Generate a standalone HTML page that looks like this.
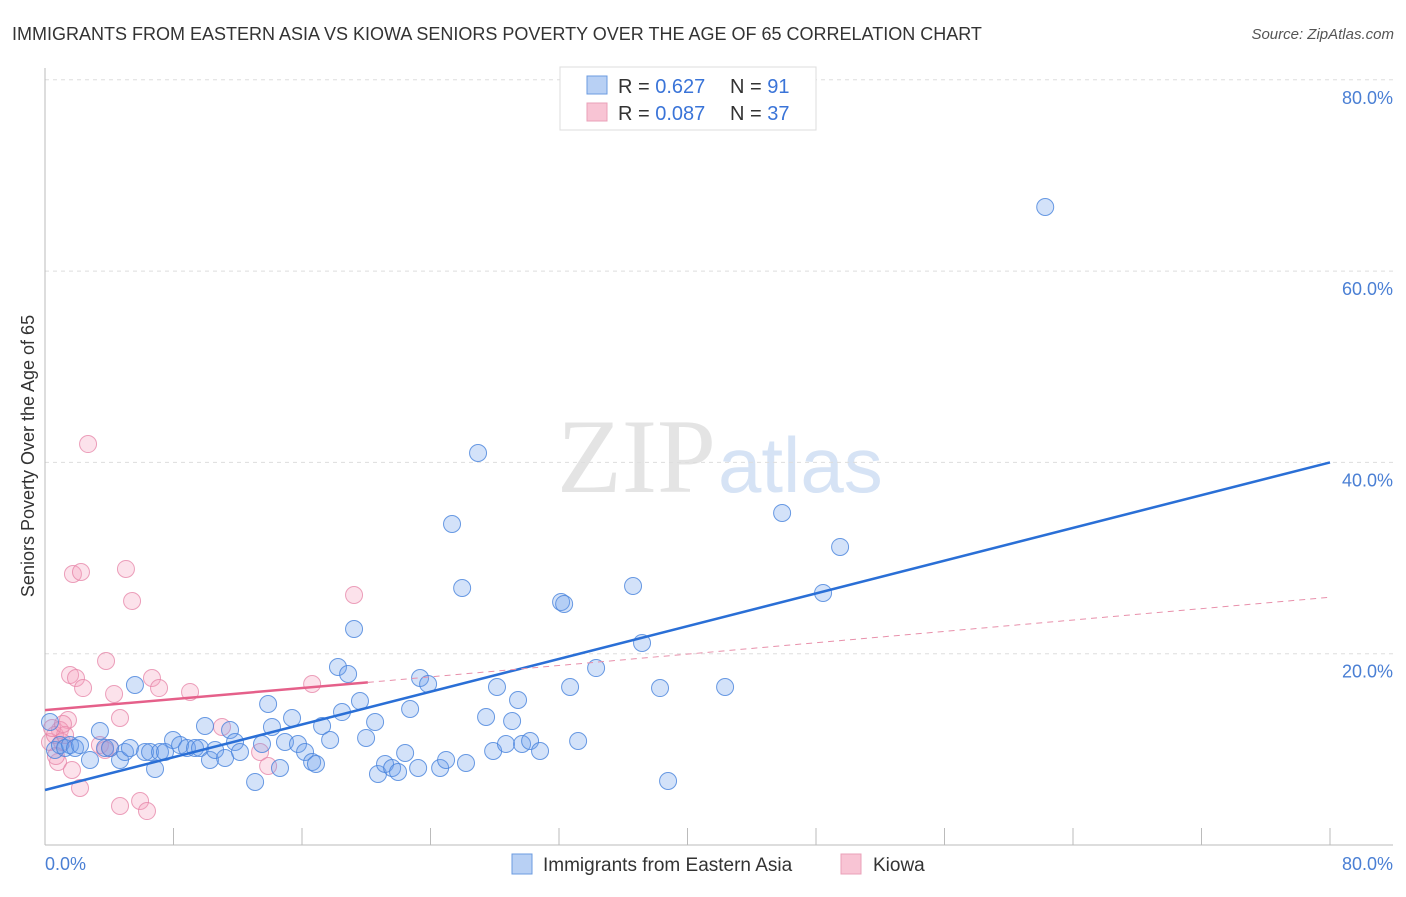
<!DOCTYPE html>
<html><head><meta charset="utf-8"><style>
body{margin:0;background:#fff;font-family:"Liberation Sans",sans-serif;}
</style></head><body>
<svg width="1406" height="892" viewBox="0 0 1406 892">
<text x="12" y="40" font-size="18" fill="#333">IMMIGRANTS FROM EASTERN ASIA VS KIOWA SENIORS POVERTY OVER THE AGE OF 65 CORRELATION CHART</text>
<text x="1394" y="39" font-size="15" fill="#555" font-style="italic" text-anchor="end">Source: ZipAtlas.com</text>
<text x="716" y="492" font-size="106" fill="#e4e4e4" text-anchor="end" font-family="Liberation Serif">ZIP</text>
<text x="718" y="492" font-size="78" fill="#d6e3f5">atlas</text>
<g id="grid"></g>
<g id="axes"></g>
<g id="pts"></g>
<g id="lines"></g>
<text transform="translate(34,456) rotate(-90)" font-size="18" fill="#333" text-anchor="middle">Seniors Poverty Over the Age of 65</text>
<text x="45" y="870" font-size="18" fill="#4a7fd4">0.0%</text>
<text x="1393" y="870" font-size="18" fill="#4a7fd4" text-anchor="end">80.0%</text>
<g>
<rect x="560" y="67" width="256" height="63" fill="#fff" stroke="#ddd"/>
<rect x="587" y="76" width="20" height="18" fill="#b8d0f4" stroke="#6b9be0"/>
<rect x="587" y="103" width="20" height="18" fill="#f8c4d4" stroke="#eaa0b8"/>
<text x="618" y="93" font-size="20" fill="#333">R = <tspan fill="#3a74d8">0.627</tspan></text>
<text x="730" y="93" font-size="20" fill="#333">N = <tspan fill="#3a74d8">91</tspan></text>
<text x="618" y="120" font-size="20" fill="#333">R = <tspan fill="#3a74d8">0.087</tspan></text>
<text x="730" y="120" font-size="20" fill="#333">N = <tspan fill="#3a74d8">37</tspan></text>
</g>
<g>
<rect x="512" y="854" width="20" height="20" fill="#b8d0f4" stroke="#6b9be0"/>
<text x="543" y="871" font-size="19" fill="#333">Immigrants from Eastern Asia</text>
<rect x="841" y="854" width="20" height="20" fill="#f8c4d4" stroke="#eaa0b8"/>
<text x="873" y="871" font-size="19" fill="#333">Kiowa</text>
</g>
</svg>
<script>
const blueX=[0.31,0.62,0.93,1.25,1.56,1.87,2.18,2.80,3.42,3.74,4.05,4.67,4.98,5.29,5.60,6.23,6.54,6.85,7.16,7.47,7.97,8.41,8.84,9.34,9.65,9.96,10.27,10.59,11.21,11.52,11.83,12.14,13.08,13.51,13.89,14.13,14.63,14.94,15.38,15.75,16.19,16.63,16.87,17.25,17.75,18.24,18.49,18.87,19.24,19.61,19.99,20.55,20.73,21.17,21.61,21.98,22.42,22.73,23.23,23.35,23.85,24.60,24.97,25.34,25.97,26.21,26.96,27.46,27.90,28.14,28.70,29.08,29.45,29.70,30.20,30.82,32.13,32.32,32.69,33.19,34.31,36.61,37.17,38.29,38.79,42.34,45.89,48.44,49.50,62.27];
const blueY=[12.86,9.93,10.45,10.14,10.45,10.14,10.45,8.89,11.92,10.14,10.14,8.89,9.72,10.14,16.73,9.72,9.72,7.95,9.72,9.72,10.98,10.45,10.14,10.14,10.14,12.44,8.89,9.93,9.10,12.02,10.77,9.72,6.59,10.56,14.74,12.34,8.05,10.77,13.28,10.56,9.72,8.68,8.47,12.44,10.98,18.61,13.90,17.88,22.58,15.05,11.19,12.86,7.42,8.47,8.05,7.63,9.62,14.22,8.05,17.46,16.83,8.05,8.89,33.56,26.87,8.57,40.98,13.38,9.83,16.52,10.56,12.96,15.16,10.56,10.87,9.83,25.41,25.20,16.52,10.87,18.50,27.08,21.12,16.41,6.69,16.52,34.71,26.35,31.16,66.70];
const pinkX=[2.68,1.74,2.24,5.04,5.42,19.24,3.80,1.56,1.93,2.37,6.66,7.10,9.03,4.30,16.63,4.67,11.02,1.43,0.93,0.31,0.62,1.06,3.42,4.05,13.39,13.89,0.81,1.68,2.18,4.67,5.92,6.35,1.25,0.44,0.68,1.12,3.74];
const pinkY=[41.92,28.33,28.54,28.86,25.51,26.14,19.24,17.77,17.46,16.41,17.46,16.41,16.00,15.79,16.83,13.28,12.34,13.07,12.02,10.77,11.50,10.77,10.45,10.14,9.72,8.26,8.68,7.84,5.96,4.08,4.60,3.55,11.50,12.23,9.30,12.65,9.93];
const yTicks=[20,40,60,80];
const yTickLabels=["20.0%","40.0%","60.0%","80.0%"];
const xTicks=[0,8,16,24,32,40,48,56,64,72,80];
const blueTrend=[[0,5.75],[80,40.0]];
const pinkTrend=[[0,14.1],[20.1,17.0]];
const pinkDash=[[20.1,17.0],[80,25.9]];

const sx=v=>45+v*16.0625;
const sy=v=>845-v*9.565;
const NS="http://www.w3.org/2000/svg";
function mk(parent,tag,attrs){const e=document.createElementNS(NS,tag);for(const k in attrs)e.setAttribute(k,attrs[k]);document.getElementById(parent).appendChild(e);return e;}
yTicks.forEach((t,i)=>{
 const l=mk('grid','line',{x1:45,x2:1393,y1:sy(t),y2:sy(t),stroke:'#ddd','stroke-dasharray':'4,4'});
 
 
 const tx=mk('grid','text',{x:1393,y:sy(t)+24,'font-size':18,fill:'#4a7fd4','text-anchor':'end'});
 tx.textContent=yTickLabels[i];
 
 
});
let a=mk('axes','line',{x1:45,x2:45,y1:68,y2:845,stroke:'#bbb'});


a=mk('axes','line',{x1:45,x2:1393,y1:845,y2:845,stroke:'#bbb'});


xTicks.forEach(t=>{
 const l=mk('axes','line',{x1:sx(t),x2:sx(t),y1:828,y2:845,stroke:'#bbb'});
 
 
});
pinkX.forEach((x,i)=>{
 const c=mk('pts','circle',{cx:sx(x),cy:sy(pinkY[i]),r:8.5,fill:'rgba(244,160,188,0.3)',stroke:'rgba(230,130,165,0.75)','stroke-width':1});
 
 
});
blueX.forEach((x,i)=>{
 const c=mk('pts','circle',{cx:sx(x),cy:sy(blueY[i]),r:8.5,fill:'rgba(110,160,235,0.3)',stroke:'rgba(70,130,220,0.8)','stroke-width':1});
 
 
});
let t=mk('lines','line',{x1:sx(blueTrend[0][0]),y1:sy(blueTrend[0][1]),x2:sx(blueTrend[1][0]),y2:sy(blueTrend[1][1]),stroke:'#2a6fd6','stroke-width':2.5});


t=mk('lines','line',{x1:sx(pinkTrend[0][0]),y1:sy(pinkTrend[0][1]),x2:sx(pinkTrend[1][0]),y2:sy(pinkTrend[1][1]),stroke:'#e5608a','stroke-width':2.5});


t=mk('lines','line',{x1:sx(pinkDash[0][0]),y1:sy(pinkDash[0][1]),x2:sx(pinkDash[1][0]),y2:sy(pinkDash[1][1]),stroke:'#e890ab','stroke-width':1,'stroke-dasharray':'6,5'});


</script>
</body></html>
